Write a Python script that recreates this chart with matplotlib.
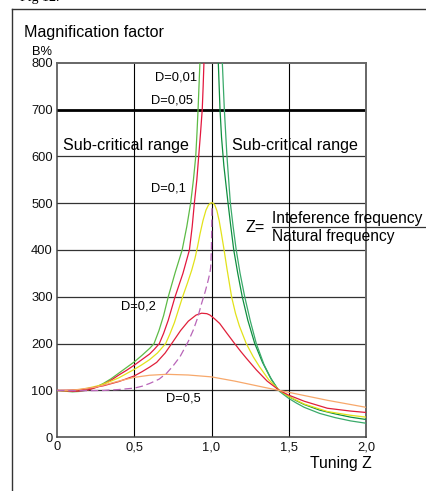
import matplotlib.pyplot as plt
from matplotlib.lines import Line2D

plt.rcParams["font.family"] = ["Liberation Sans", "DejaVu Sans"]

# values (tuning Z, magnification B in %)
z_d001_left = [0, 0.05, 0.1, 0.15, 0.2, 0.25, 0.3, 0.35, 0.4, 0.45, 0.5, 0.55, 0.6, 0.628, 0.66, 0.69, 0.72,
               0.765, 0.81, 0.84, 0.865, 0.883, 0.898, 0.906, 0.913, 0.919, 0.925]
b_d001_left = [100, 98.5, 97, 98, 101, 107, 115, 125, 137, 149, 161, 175, 190, 200, 228, 260, 300,
               352, 400, 450, 500, 550, 600, 650, 700, 750, 800]

z_d005_left = [0, 0.05, 0.1, 0.15, 0.2, 0.25, 0.3, 0.35, 0.4, 0.45, 0.5, 0.55, 0.6, 0.63, 0.662, 0.69, 0.72,
               0.764, 0.815, 0.857, 0.875, 0.889, 0.905, 0.917, 0.929, 0.94, 0.946, 0.951]
b_d005_left = [100, 99, 98, 99, 101, 106, 113, 122, 133, 143, 154, 166, 178, 188, 200, 222, 250,
               300, 350, 400, 450, 500, 550, 600, 650, 700, 750, 800]

z_right_a = [1.044, 1.055, 1.065, 1.08, 1.107, 1.125, 1.144, 1.17, 1.199, 1.235, 1.28, 1.33, 1.38, 1.43,
             1.5, 1.55, 1.6, 1.7, 1.8, 1.9, 2.0]
b_right_a = [800, 700, 640, 580, 500, 450, 400, 350, 300, 250, 200, 160, 128, 102,
             87, 78, 70, 58, 50, 43, 38]

z_right_b = [1.07, 1.083, 1.1, 1.122, 1.14, 1.16, 1.185, 1.215, 1.25, 1.29, 1.34, 1.39, 1.44,
             1.5, 1.55, 1.6, 1.7, 1.8, 1.9, 2.0]
b_right_b = [800, 700, 600, 500, 450, 400, 350, 300, 250, 200, 155, 122, 98,
             83, 73, 64, 51, 42, 35, 30]

z_d01 = [0, 0.05, 0.1, 0.15, 0.2, 0.278, 0.35, 0.4, 0.45, 0.5, 0.55, 0.6, 0.65, 0.703, 0.73, 0.76, 0.813,
         0.845, 0.872, 0.893, 0.91, 0.926, 0.945, 0.964, 0.98, 0.993, 1.005, 1.02, 1.035, 1.05, 1.065,
         1.08, 1.1, 1.115, 1.13, 1.155, 1.18, 1.225, 1.27, 1.31, 1.37, 1.44, 1.5, 1.6, 1.75, 1.9, 2.0]
b_d01 = [100, 99.5, 100, 102, 105, 111, 120, 127, 136, 145, 155, 166, 180, 200, 220, 245, 300,
         330, 357, 382, 408, 435, 463, 485, 496, 500, 501, 497, 484, 462, 433,
         403, 360, 330, 300, 265, 238, 200, 172, 151, 123, 100, 87, 71, 55, 47, 43]

z_d02 = [0, 0.15, 0.3, 0.4, 0.5, 0.55, 0.6, 0.645, 0.7, 0.742, 0.8, 0.85, 0.9, 0.936, 0.97, 0.99, 1.02,
         1.053, 1.1, 1.15, 1.19, 1.225, 1.29, 1.36, 1.44, 1.5, 1.6, 1.75, 1.9, 2.0]
b_d02 = [100, 101, 110, 119, 131, 140, 150, 160, 180, 200, 228, 248, 261, 265, 264, 261, 253,
         243, 222, 200, 183, 169, 144, 120, 100, 90, 77, 62, 56, 53]

z_d05 = [0, 0.1, 0.25, 0.4, 0.5, 0.6, 0.71, 0.85, 1.0, 1.15, 1.25, 1.35, 1.44, 1.5, 1.75, 2.0]
b_d05 = [100, 100.5, 107, 120, 128, 132.5, 134.5, 133, 129, 120, 113, 106, 100, 96, 79, 64]

z_dashed = [0, 0.1, 0.2, 0.3, 0.4, 0.5, 0.55, 0.6, 0.66, 0.71, 0.75, 0.796, 0.85, 0.882, 0.91, 0.936,
            0.96, 0.979, 0.99, 0.995, 0.999, 1.001, 1.003]
b_dashed = [100, 99.5, 99.5, 100, 102, 105, 109, 115, 124, 137, 152, 172, 205, 229, 255, 286,
            312, 336, 352, 364, 400, 440, 490]

x_ticks = [0, 0.5, 1.0, 1.5, 2.0]
x_tick_labels = ["0", "0,5", "1,0", "1,5", "2,0"]
y_ticks = [0, 100, 200, 300, 400, 500, 600, 700, 800]

fig = plt.figure(figsize=(4.26, 4.91), dpi=100)
ax = fig.add_axes([0.1338, 0.1094, 0.7254, 0.7629])
ax.set_xlim(0, 2.0)
ax.set_ylim(0, 800)

# grid
for y in y_ticks[1:-1]:
    if y == 700:
        ax.axhline(y, color="black", lw=2.0, zorder=1)
    else:
        ax.axhline(y, color="#333333", lw=0.9, zorder=1)
for x in x_ticks[1:-1]:
    ax.axvline(x, color="black", lw=0.8, zorder=1)

# curves
ax.plot(z_d001_left, b_d001_left, color="#5dbb46", lw=0.9, zorder=3)
ax.plot(z_d005_left, b_d005_left, color="#e3173e", lw=0.9, zorder=3)
ax.plot(z_right_a, b_right_a, color="#0f8f3f", lw=0.9, zorder=3)
ax.plot(z_right_b, b_right_b, color="#3aaa6a", lw=0.9, zorder=3)
ax.plot(z_d01, b_d01, color="#e2e21a", lw=0.9, zorder=3)
ax.plot(z_d02, b_d02, color="#e0203a", lw=0.9, zorder=3)
ax.plot(z_d05, b_d05, color="#f7a86b", lw=0.9, zorder=3)
ax.plot(z_dashed, b_dashed, color="#b865b8", lw=0.9, ls=(0, (6, 3)), zorder=3)

# axes styling
ax.set_xticks(x_ticks)
ax.set_xticklabels(x_tick_labels)
ax.set_yticks(y_ticks)
ax.tick_params(length=0, labelsize=9.3, colors="#111111")
ax.tick_params(axis="y", pad=3)
ax.tick_params(axis="x", pad=3)
for side in ["left", "bottom"]:
    ax.spines[side].set_color("#444444")
    ax.spines[side].set_linewidth(1.1)
for side in ["top", "right"]:
    ax.spines[side].set_color("#666666")
    ax.spines[side].set_linewidth(1.4)

# labels on the curves
small = 9.3
big = 11.6
ax.text(0.906, 769, "D=0,01", ha="right", va="center", fontsize=small)
ax.text(0.880, 720, "D=0,05", ha="right", va="center", fontsize=small)
ax.text(0.835, 532, "D=0,1", ha="right", va="center", fontsize=small)
ax.text(0.641, 279, "D=0,2", ha="right", va="center", fontsize=small)
ax.text(0.705, 82, "D=0,5", ha="left", va="center", fontsize=small)
ax.text(0.039, 624, "Sub-critical range", ha="left", va="center", fontsize=big)
ax.text(1.133, 624, "Sub-critical range", ha="left", va="center", fontsize=big)

# Z = fraction
ax.text(1.221, 447, "Z=", ha="left", va="center", fontsize=big, clip_on=False)
ax.text(1.392, 468, "Inteference frequency", ha="left", va="center", fontsize=11.2, clip_on=False)
ax.text(1.392, 428, "Natural frequency", ha="left", va="center", fontsize=11.2, clip_on=False)
ax.plot([1.392, 2.38], [448.4, 448.4], color="#333333", lw=0.9, clip_on=False, zorder=4)

ax.text(2.039, -57, "Tuning Z", ha="right", va="center", fontsize=11.3, clip_on=False)

# titles outside the axes
fig.text(24 / 426, 1 - 36.7 / 491, "Magnification factor", ha="left", va="baseline", fontsize=big)
fig.text(32 / 426, 1 - 55 / 491, "B%", ha="left", va="baseline", fontsize=small)
fig.text(20 / 426, 1 - 1 / 491, "Fig 12.", ha="left", va="baseline", fontsize=10, family="Liberation Serif")

# outer frame (top and left only)
fig.add_artist(Line2D([12 / 426, 1.0], [1 - 8.7 / 491, 1 - 8.7 / 491], color="#333333", lw=1.0))
fig.add_artist(Line2D([12 / 426, 12 / 426], [0, 1 - 8.7 / 491], color="#333333", lw=1.0))

fig.savefig("out.png", dpi=100)
plt.close(fig)
